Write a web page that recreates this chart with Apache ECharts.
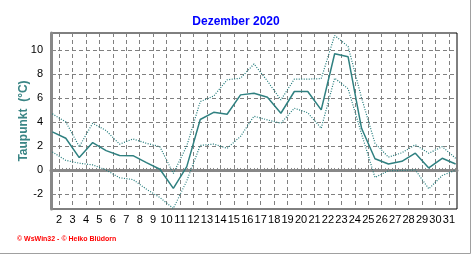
<!DOCTYPE html>
<html><head><meta charset="utf-8">
<script src="https://cdn.jsdelivr.net/npm/echarts@6/dist/echarts.min.js"></script>
<style>html,body{margin:0;padding:0;background:#fff}#c{width:472px;height:255px}</style>
</head><body><div id="c"></div>
<script>
const days = [1,2,3,4,5,6,7,8,9,10,11,12,13,14,15,16,17,18,19,20,21,22,23,24,25,26,27,28,29,30,31];
const dewMean = [3.17,2.64,1.03,2.28,1.61,1.2,1.19,0.61,0.06,-1.53,0.28,4.2,4.8,4.64,6.25,6.39,6.05,4.72,6.53,6.53,5.0,9.67,9.42,3.47,0.93,0.5,0.72,1.4,0.17,0.97,0.5];
const dewMax = [4.67,4.0,1.94,3.89,3.28,2.15,2.58,2.22,1.94,-0.3,2.0,5.69,6.15,7.5,7.64,8.82,7.4,5.83,7.56,7.56,7.6,11.2,10.28,6.0,2.22,1.07,1.43,2.1,1.39,1.94,0.97];
const dewMin = [1.5,0.8,0.56,0.42,0,-0.65,-0.8,-1.6,-2.3,-3.2,-0.9,2.04,2.15,1.8,2.8,4.47,4.17,3.89,5.14,4.76,3.47,7.64,6.76,3.0,-0.62,-0.07,-0.04,0,-1.57,-0.46,-0.02];
const xTickLabels = [2,3,4,5,6,7,8,9,10,11,12,13,14,15,16,17,18,19,20,21,22,23,24,25,26,27,28,29,30,31];
const yTickLabels = [-2,0,2,4,6,8,10];

const xMinor = [];
days.forEach(d => { [0.5,0.75,1,1.25].forEach(q => { if (d + q <= 31.5) xMinor.push(d + q); }); });
const yMinor = [];
for (let v = -3; v <= 11; v += 0.5) yMinor.push(v);

const font = 'Liberation Sans, Arial, sans-serif';
const gray = '#888888';
const teal = '#2F8080';
const toPts = arr => days.map((d, i) => [d + 0.5, arr[i]]);

const chart = echarts.init(document.getElementById('c'), null, {renderer: 'canvas'});
chart.setOption({
  animation: false,
  backgroundColor: '#fff',
  title: {
    text: 'Dezember 2020', left: 'center', top: 11,
    textStyle: {color: '#0000FF', fontSize: 12, fontWeight: 'bold', fontFamily: font}
  },
  grid: {left: 51, right: 15, top: 33, bottom: 46, show: true, borderColor: '#000', borderWidth: 1, backgroundColor: 'transparent'},
  xAxis: [{
    type: 'value', min: 1.4, max: 31.6, position: 'bottom',
    axisLine: {show: true, lineStyle: {color: gray, width: 3}},
    axisTick: {show: true, inside: true, length: 5, customValues: xTickLabels, lineStyle: {color: gray}},
    axisLabel: {customValues: xTickLabels, margin: 5, color: '#000', fontSize: 11, fontFamily: font},
    splitLine: {show: true, lineStyle: {color: '#808080', type: [4, 3], width: 1}}
  }, {
    type: 'value', min: 1.4, max: 31.6, position: 'bottom',
    axisLine: {show: false},
    axisTick: {show: true, inside: true, length: 2, customValues: xMinor, lineStyle: {color: gray}},
    axisLabel: {show: false},
    splitLine: {show: false}
  }],
  yAxis: [{
    type: 'value', min: -3.25, max: 11.4, position: 'left',
    name: 'Taupunkt  (°C)', nameLocation: 'middle', nameGap: 21, nameMoveOverlap: false,
    nameTextStyle: {color: '#3A8585', fontSize: 12, fontWeight: 'bold', fontFamily: font},
    axisLine: {show: true, lineStyle: {color: gray, width: 3}},
    axisTick: {show: true, inside: true, length: 5, customValues: yTickLabels, lineStyle: {color: gray}},
    axisLabel: {customValues: yTickLabels, margin: 8, color: '#000', fontSize: 11, fontFamily: font},
    splitLine: {show: true, lineStyle: {color: '#808080', type: [4, 3], width: 1}}
  }, {
    type: 'value', min: -3.25, max: 11.4, position: 'left',
    axisLine: {show: false},
    axisTick: {show: true, inside: true, length: 2, customValues: yMinor, lineStyle: {color: gray}},
    axisLabel: {show: false},
    splitLine: {show: false}
  }],
  series: [{
    name: 'Mittel', type: 'line', data: toPts(dewMean), symbol: 'none',
    lineStyle: {color: teal, width: 1.5}, z: 5
  }, {
    name: 'Max', type: 'line', data: toPts(dewMax), symbol: 'none',
    lineStyle: {color: '#1F7A7A', width: 1.2, type: [1, 1.5]}, z: 4
  }, {
    name: 'Min', type: 'line', data: toPts(dewMin), symbol: 'none',
    lineStyle: {color: '#1F7A7A', width: 1.2, type: [1, 1.5]}, z: 4
  }],
  graphic: [
    {type: 'text', left: 17, top: 236, style: {text: '© WsWin32 - © Heiko Blüdorn', fill: '#FF0000', font: 'bold 7px ' + font}},
    {type: 'line', shape: {x1: 470.5, y1: 0, x2: 470.5, y2: 253.5}, style: {stroke: '#A0A0A0', lineWidth: 1}},
    {type: 'line', shape: {x1: 0, y1: 253.5, x2: 470.5, y2: 253.5}, style: {stroke: '#A0A0A0', lineWidth: 1}}
  ]
});
</script></body></html>
